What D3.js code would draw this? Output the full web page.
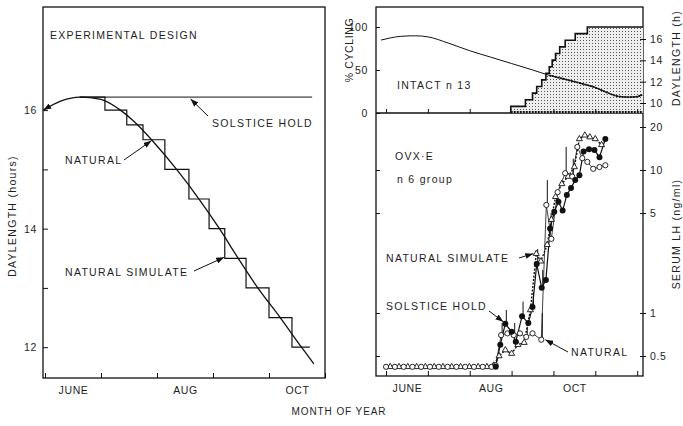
<!DOCTYPE html>
<html>
<head>
<meta charset="utf-8">
<script src="https://cdn.jsdelivr.net/npm/d3@7/dist/d3.min.js"></script>
<style>
  body { margin: 0; background: #fff; }
  svg text { font-family: "Liberation Sans", Arial, sans-serif; fill: #1e1e1e; font-size: 10.5px; letter-spacing: 1.3px; }
  .tick line, .frame { stroke: #111; }
</style>
</head>
<body>
<svg id="chart" width="683" height="426"></svg>
<script>
// ---- data (months counted from June 1; 1 = July 1 ...) ----
// left panel: experimental design
const natDayMonths = [-0.03, 0.3, 0.62, 1.0, 1.3, 1.6, 1.95, 2.35, 2.75, 3.1, 3.45, 3.8, 4.2, 4.58, 4.8];
const natDayHours  = [16.0, 16.16, 16.22, 16.18, 16.03, 15.8, 15.45, 15.0, 14.5, 14.02, 13.5, 13.0, 12.5, 12.0, 11.72];
const simStepMonths = [0.62, 1.07, 1.46, 1.75, 2.14, 2.57, 2.93, 3.21, 3.59, 4.0, 4.41, 4.73];
const simStepHours  = [16.22, 16.0, 15.75, 15.5, 15.0, 14.5, 14.0, 13.5, 13.0, 12.5, 12.0, 12.0];
const holdMonths = [0.62, 4.77];
const holdHours  = [16.22, 16.22];

// top right: intact ewes, % cycling and natural daylength
const cycMonths = [2.98, 2.98, 3.33, 3.5, 3.6, 3.72, 3.82, 3.9, 3.97, 4.05, 4.15, 4.28, 4.52, 4.81, 6.14];
const cycPct    = [0, 7.7, 15.4, 23.1, 30.8, 38.5, 46.2, 53.8, 61.5, 69.2, 76.9, 84.6, 92.3, 100, 100];
const dayMonths = [-0.12, 0.1, 0.35, 0.7, 1.0, 1.5, 2.0, 2.5, 3.0, 3.5, 3.9, 4.2, 4.6, 5.0, 5.3, 5.55, 5.8, 6.0, 6.12];
const dayHours  = [15.9, 16.1, 16.25, 16.3, 16.2, 15.6, 14.9, 14.3, 13.7, 13.1, 12.6, 12.3, 11.9, 11.45, 10.95, 10.62, 10.55, 10.6, 10.78];

// bottom right: OVX+E serum LH (ng/ml)
const natMonths = [0, 0.21, 0.42, 0.63, 0.84, 1.05, 1.26, 1.47, 1.68, 1.89, 2.1, 2.31, 2.52, 2.62, 2.75, 2.9, 3.05, 3.2, 3.35, 3.5, 3.71, 3.83, 3.95, 4.1, 4.28, 4.45, 4.57, 4.69, 4.81, 4.95, 5.1, 5.24];
const natLH     = [0.42, 0.42, 0.42, 0.42, 0.42, 0.42, 0.42, 0.42, 0.42, 0.42, 0.42, 0.42, 0.42, 0.43, 0.7, 0.72, 0.7, 0.72, 0.68, 0.72, 0.65, 5.7, 3.3, 7.0, 9.5, 9.0, 14.5, 12.1, 11.4, 10.2, 10.5, 10.8];
const natErr    = [0, 0, 0, 0, 0, 0, 0, 0, 0, 0, 0, 0, 0, 0, 0.85, 0, 0.85, 0, 0.8, 0, 1.0, 8.5, 0, 0, 14.5, 12, 0, 0, 0, 0, 0, 0];
const simMonths = [0.1, 0.31, 0.52, 0.73, 0.94, 1.15, 1.36, 1.57, 1.78, 1.99, 2.2, 2.41, 2.57, 2.7, 2.85, 3.0, 3.15, 3.3, 3.45, 3.59, 3.7, 3.85, 3.95, 4.05, 4.2, 4.35, 4.5, 4.62, 4.75, 4.87, 5.0, 5.15];
const simLH     = [0.42, 0.42, 0.42, 0.42, 0.42, 0.42, 0.42, 0.42, 0.42, 0.42, 0.42, 0.42, 0.43, 0.5, 0.55, 0.52, 0.6, 0.62, 1.05, 2.6, 2.3, 3.0, 4.5, 6.5, 8.0, 9.0, 10.5, 16.5, 17.5, 17.0, 16.5, 15.0];
const solMonths = [2.62, 2.73, 2.85, 3.0, 3.1, 3.25, 3.4, 3.5, 3.6, 3.72, 3.82, 3.92, 4.02, 4.12, 4.22, 4.32, 4.42, 4.52, 4.62, 4.72, 4.85, 4.98, 5.1, 5.24];
const solLH     = [0.42, 0.6, 0.84, 0.74, 0.63, 0.95, 0.85, 1.1, 2.2, 1.5, 1.7, 3.9, 5.1, 6.0, 5.2, 6.7, 7.5, 8.5, 9.2, 13.5, 14.0, 13.8, 12.3, 16.5];
const solErr    = [0, 0, 1.05, 0, 0, 1.2, 0, 1.4, 2.8, 2.0, 0, 5.0, 0, 0, 0, 0, 0, 0, 0, 0, 0, 0, 0, 0];

const monthLabels = ["JUNE", "AUG", "OCT"];
const monthLabelPos = [0.5, 2.5, 4.5];
const leftYTicks = [12, 13, 14, 15, 16];
const pctTicks = [0, 50, 100];
const dayTicks = [10, 12, 14, 16];
const lhTicks = [0.5, 1, 5, 10, 20];

const zip = (a, b) => a.map((d, i) => [d, b[i]]);

const svg = d3.select('#chart');
const defs = svg.append('defs');

defs.append('marker')
    .attr('id', 'arrow')
    .attr('viewBox', '0 0 8 6')
    .attr('refX', 8).attr('refY', 3)
    .attr('markerWidth', 8).attr('markerHeight', 6)
    .attr('markerUnits', 'userSpaceOnUse')
    .attr('orient', 'auto-start-reverse')
    .append('path').attr('d', 'M0,0L8,3L0,6Z').attr('fill', '#111');

// stipple for the % cycling area
const pat = defs.append('pattern')
    .attr('id', 'stipple')
    .attr('width', 3).attr('height', 3)
    .attr('patternUnits', 'userSpaceOnUse');
pat.append('rect').attr('width', 3).attr('height', 3).attr('fill', '#eeeeee');
pat.append('rect').attr('x', 1).attr('y', 1).attr('width', 1).attr('height', 1).attr('fill', '#555');

// ================= LEFT PANEL =================
const L = { x0: 43, x1: 325, y0: 7, y1: 378 };
const xL = d3.scaleLinear().domain([-0.036, 5]).range([L.x0, L.x1]);
const yL = d3.scaleLinear().domain([11.48, 17.74]).range([L.y1, L.y0]);

svg.append('rect').attr('class', 'frame')
    .attr('x', L.x0).attr('y', L.y0)
    .attr('width', L.x1 - L.x0).attr('height', L.y1 - L.y0)
    .attr('fill', 'none').attr('stroke-width', 1.3);

svg.append('g')
    .attr('transform', `translate(${L.x0},0)`)
    .call(d3.axisLeft(yL).tickValues(leftYTicks).tickSize(-5).tickPadding(6)
        .tickFormat(d => d % 2 === 0 ? d : ''))
    .call(g => g.select('.domain').remove());

svg.append('g')
    .attr('transform', `translate(0,${L.y1})`)
    .call(d3.axisBottom(xL).tickValues([0, 1, 2, 3, 4, 5]).tickSize(-5).tickFormat(''))
    .call(g => g.select('.domain').remove());

svg.append('g')
    .attr('transform', `translate(0,${L.y1})`)
    .call(d3.axisBottom(xL).tickValues(monthLabelPos).tickSize(0).tickPadding(9)
        .tickFormat((d, i) => monthLabels[i]))
    .call(g => g.select('.domain').remove());

const lineL = d3.line().x(d => xL(d[0])).y(d => yL(d[1]));

svg.append('path')
    .datum(zip(holdMonths, holdHours))
    .attr('d', lineL).attr('fill', 'none').attr('stroke', '#111').attr('stroke-width', 1);

svg.append('path')
    .datum(zip(simStepMonths, simStepHours))
    .attr('d', lineL.curve(d3.curveStepAfter)).attr('fill', 'none')
    .attr('stroke', '#111').attr('stroke-width', 1.2);
lineL.curve(d3.curveLinear);

svg.append('path')
    .datum(zip(natDayMonths, natDayHours))
    .attr('d', d3.line().x(d => xL(d[0])).y(d => yL(d[1])).curve(d3.curveMonotoneX))
    .attr('fill', 'none').attr('stroke', '#111').attr('stroke-width', 1.3)
    .attr('marker-start', 'url(#arrow)');

svg.append('text').attr('x', 50).attr('y', 39).text('EXPERIMENTAL DESIGN');
svg.append('text').attr('x', 212).attr('y', 127).text('SOLSTICE HOLD');
svg.append('text').attr('x', 65).attr('y', 164).text('NATURAL');
svg.append('text').attr('x', 65).attr('y', 276).text('NATURAL SIMULATE');

function arrow(x1, y1, x2, y2) {
    svg.append('line')
        .attr('x1', x1).attr('y1', y1).attr('x2', x2).attr('y2', y2)
        .attr('stroke', '#111').attr('stroke-width', 1)
        .attr('marker-end', 'url(#arrow)');
}
arrow(208, 116, xL(2.6), yL(16.22) + 2);
arrow(124, 160, xL(1.9), yL(15.5) + 1);
arrow(194, 271, xL(3.2), yL(13.5) - 1);

svg.append('text')
    .attr('transform', `translate(16,216) rotate(-90)`)
    .attr('text-anchor', 'middle')
    .text('DAYLENGTH (hours)');

svg.append('text')
    .attr('x', 339).attr('y', 415)
    .attr('text-anchor', 'middle')
    .style('font-size', '10px').style('letter-spacing', '0.9px')
    .text('MONTH OF YEAR');

// ================= RIGHT PANELS =================
const R = { x0: 376, x1: 643, yTop: 7, yMid: 113, yBot: 376 };
const xR = d3.scaleLinear().domain([-0.24, 6.14]).range([R.x0, R.x1]);
const yPct = d3.scaleLinear().domain([0, 100]).range([R.yMid, 27]);
const yDay = d3.scaleLinear().domain([10, 16]).range([103, 39]);
const yLH = d3.scaleLog().domain([0.5, 20]).range([356, 127]);

// frames
svg.append('rect').attr('class', 'frame')
    .attr('x', R.x0).attr('y', R.yTop)
    .attr('width', R.x1 - R.x0).attr('height', R.yBot - R.yTop)
    .attr('fill', 'none').attr('stroke-width', 1.3);
svg.append('line').attr('class', 'frame')
    .attr('x1', R.x0).attr('x2', R.x1).attr('y1', R.yMid).attr('y2', R.yMid)
    .attr('stroke-width', 1.3);

// % cycling stepped area
svg.append('path')
    .datum(zip(cycMonths, cycPct))
    .attr('d', d3.area().x(d => xR(d[0])).y0(yPct(0)).y1(d => yPct(d[1])).curve(d3.curveStepAfter))
    .attr('fill', 'url(#stipple)');
svg.append('path')
    .datum(zip(cycMonths, cycPct))
    .attr('d', d3.line().x(d => xR(d[0])).y(d => yPct(d[1])).curve(d3.curveStepAfter))
    .attr('fill', 'none').attr('stroke', '#111').attr('stroke-width', 1.6);
svg.append('line')
    .attr('x1', xR(cycMonths[0])).attr('x2', R.x1)
    .attr('y1', R.yMid - 1).attr('y2', R.yMid - 1)
    .attr('stroke', '#111').attr('stroke-width', 2).attr('stroke-dasharray', '2,1');

// natural daylength over the intact panel
const dayPts = zip(dayMonths, dayHours);
const lineDay = d3.line().x(d => xR(d[0])).y(d => yDay(d[1])).curve(d3.curveMonotoneX);
svg.append('path').datum(dayPts).attr('d', lineDay)
    .attr('fill', 'none').attr('stroke', '#111').attr('stroke-width', 1);
svg.append('path').datum(dayPts.filter(d => d[0] >= 3.9)).attr('d', lineDay)
    .attr('fill', 'none').attr('stroke', '#111').attr('stroke-width', 1.8)
    .attr('stroke-dasharray', '2,0.8');

// axes, top panel
svg.append('g')
    .attr('transform', `translate(${R.x0},0)`)
    .call(d3.axisLeft(yPct).tickValues(pctTicks).tickSize(-4).tickPadding(8))
    .call(g => g.select('.domain').remove());
svg.append('g')
    .attr('transform', `translate(${R.x1},0)`)
    .call(d3.axisRight(yDay).tickValues(dayTicks).tickSize(3).tickPadding(4).tickFormat(d3.format('d')))
    .call(g => g.select('.domain').remove());
svg.append('g')
    .attr('transform', `translate(${R.x1},0)`)
    .call(d3.axisRight(yDay).tickValues(dayTicks).tickSize(-3).tickFormat(''))
    .call(g => g.select('.domain').remove());
svg.append('g')
    .attr('transform', `translate(0,${R.yMid})`)
    .call(d3.axisBottom(xR).tickValues([0, 1, 2, 4, 5, 6]).tickSize(-4).tickFormat(''))
    .call(g => g.select('.domain').remove());

// axes, bottom panel
svg.append('g')
    .attr('transform', `translate(${R.x0},0)`)
    .call(d3.axisLeft(yLH).tickValues(lhTicks.slice(0, 4)).tickSize(-4).tickFormat(''))
    .call(g => g.select('.domain').remove());
svg.append('g')
    .attr('transform', `translate(${R.x1},0)`)
    .call(d3.axisRight(yLH).tickValues(lhTicks).tickSize(3).tickPadding(4).tickFormat(d3.format('')))
    .call(g => g.select('.domain').remove());
svg.append('g')
    .attr('transform', `translate(${R.x1},0)`)
    .call(d3.axisRight(yLH).tickValues(lhTicks).tickSize(-3).tickFormat(''))
    .call(g => g.select('.domain').remove());
svg.append('g')
    .attr('transform', `translate(0,${R.yBot})`)
    .call(d3.axisBottom(xR).tickValues([0, 1, 2, 3, 4, 5, 6]).tickSize(-5).tickFormat(''))
    .call(g => g.select('.domain').remove());
svg.append('g')
    .attr('transform', `translate(0,${R.yBot})`)
    .call(d3.axisBottom(xR).tickValues(monthLabelPos).tickSize(0).tickPadding(9)
        .tickFormat((d, i) => monthLabels[i]))
    .call(g => g.select('.domain').remove());

// LH series
const lineLH = d3.line().x(d => xR(d[0])).y(d => yLH(d[1]));

function errBars(months, vals, errs) {
    svg.append('g').selectAll('line')
        .data(months.map((m, i) => [m, vals[i], errs[i]]).filter(d => d[2] > 0))
        .join('line')
        .attr('x1', d => xR(d[0]) + 1).attr('x2', d => xR(d[0]) + 1)
        .attr('y1', d => yLH(d[1])).attr('y2', d => yLH(d[2]))
        .attr('stroke', '#111').attr('stroke-width', 1);
}
errBars(natMonths, natLH, natErr);
errBars(solMonths, solLH, solErr);

svg.append('path').datum(zip(simMonths, simLH)).attr('d', lineLH)
    .attr('fill', 'none').attr('stroke', '#111').attr('stroke-width', 1.4)
    .attr('stroke-dasharray', '2,1.5');
svg.append('path').datum(zip(natMonths, natLH)).attr('d', lineLH)
    .attr('fill', 'none').attr('stroke', '#111').attr('stroke-width', 0.8);
svg.append('path').datum(zip(solMonths, solLH)).attr('d', lineLH)
    .attr('fill', 'none').attr('stroke', '#111').attr('stroke-width', 1.2);

svg.append('g').selectAll('path')
    .data(zip(simMonths, simLH))
    .join('path')
    .attr('transform', d => `translate(${xR(d[0])},${yLH(d[1])})`)
    .attr('d', d3.symbol(d3.symbolTriangle, 16))
    .attr('fill', '#fff').attr('stroke', '#111').attr('stroke-width', 0.9);
svg.append('g').selectAll('circle')
    .data(zip(natMonths, natLH))
    .join('circle')
    .attr('cx', d => xR(d[0])).attr('cy', d => yLH(d[1])).attr('r', 2.6)
    .attr('fill', '#fff').attr('stroke', '#111').attr('stroke-width', 0.9);
svg.append('g').selectAll('circle')
    .data(zip(solMonths, solLH))
    .join('circle')
    .attr('cx', d => xR(d[0])).attr('cy', d => yLH(d[1])).attr('r', 3)
    .attr('fill', '#111');

// right panel text
svg.append('text').attr('x', 397).attr('y', 89).text('INTACT n 13');
svg.append('text').attr('x', 395).attr('y', 160).text('OVX·E');
svg.append('text').attr('x', 397).attr('y', 183).text('n 6 group');
svg.append('text').attr('x', 386).attr('y', 262).text('NATURAL SIMULATE');
svg.append('text').attr('x', 386).attr('y', 310).text('SOLSTICE HOLD');
svg.append('text').attr('x', 571).attr('y', 356).text('NATURAL');
arrow(519, 258, xR(3.59) - 3, yLH(2.6));
arrow(489, 311, xR(2.85) - 2, yLH(0.84) - 2);
arrow(568, 352, xR(3.71) + 4, yLH(0.65));

svg.append('text')
    .attr('transform', `translate(353,50) rotate(-90)`)
    .attr('text-anchor', 'middle')
    .style('letter-spacing', '0.6px')
    .text('% CYCLING');
svg.append('text')
    .attr('transform', `translate(680,58) rotate(-90)`)
    .attr('text-anchor', 'middle')
    .text('DAYLENGTH (h)');
svg.append('text')
    .attr('transform', `translate(680,234) rotate(-90)`)
    .attr('text-anchor', 'middle')
    .text('SERUM LH (ng/ml)');

d3.selectAll('.tick text').style('font-size', '10.5px').style('fill', '#1e1e1e').style('letter-spacing', '0.6px');
</script>
</body>
</html>
